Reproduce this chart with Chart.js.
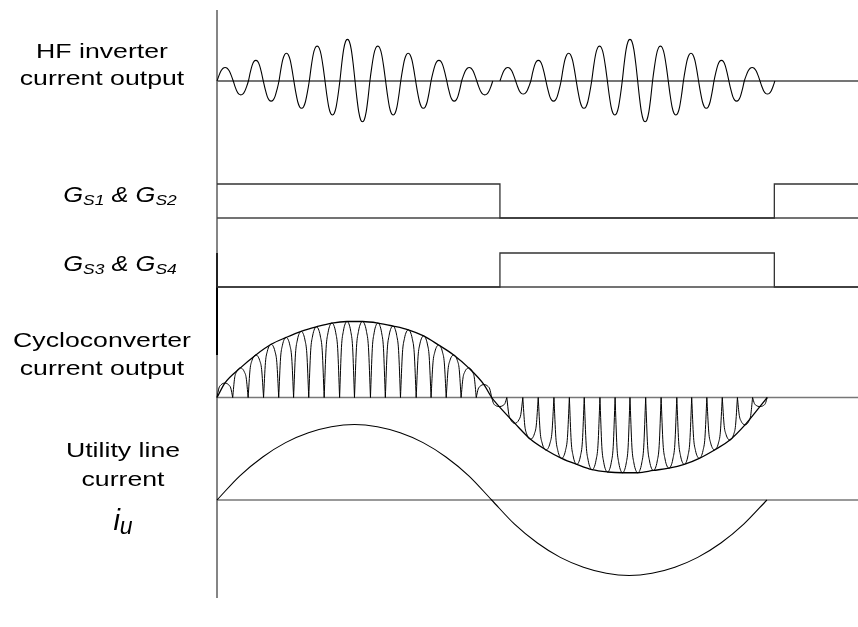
<!DOCTYPE html>
<html>
<head>
<meta charset="utf-8">
<script src="https://cdn.jsdelivr.net/npm/chart.js@4.4.1/dist/chart.umd.min.js"></script>
<style>
  html, body { margin:0; padding:0; background:#fff; }
  #wrap { position:relative; width:858px; height:627px; overflow:hidden; }
  #chart { position:absolute; left:0; top:0; display:block; }
  .lbl { position:absolute; width:240px; text-align:center; white-space:nowrap;
         font-family:"Liberation Sans", Arial, sans-serif; font-size:21px; color:#000;
         transform:scaleX(1.27); transform-origin:50% 0; }
  .gate { font-style:italic; font-size:22px; transform:scaleX(1.16); line-height:27px; }
  .gate sub { font-size:15px; vertical-align:-3px; }
  .iu { font-style:italic; font-size:29px; line-height:36px; transform:none; }
  .iu sub { font-size:23px; vertical-align:-4px; }
</style>
</head>
<body>
<div id="wrap">
  <canvas id="chart" width="858" height="627"></canvas>
  <div class="lbl" style="left:-18px; top:37px; line-height:27px;">HF inverter<br>current output</div>
  <div class="lbl gate" style="left:0px; top:181px;">G<sub>S1</sub> &amp; G<sub>S2</sub></div>
  <div class="lbl gate" style="left:0px; top:250px;">G<sub>S3</sub> &amp; G<sub>S4</sub></div>
  <div class="lbl" style="left:-18px; top:326px; line-height:28px;">Cycloconverter<br>current output</div>
  <div class="lbl" style="left:3px; top:435px; line-height:29px;">Utility line<br>current</div>
  <div class="lbl iu" style="left:3px; top:502px;">i<sub>u</sub></div>
</div>
<script>
// time in ms (one utility half cycle = 10 ms), amplitudes relative to channel peak

// HF inverter current: zero crossings and half-cycle peaks, two bursts
const hf1Zero = [0, 0.59, 1.14, 1.68, 2.25, 2.79, 3.35, 3.92, 4.46, 5.01, 5.55, 6.12, 6.67, 7.21, 7.77, 8.34, 8.88, 9.43, 10.01];
const hf1Peak = [0.32, -0.33, 0.49, -0.48, 0.66, -0.65, 0.83, -0.81, 0.99, -0.97, 0.83, -0.81, 0.66, -0.65, 0.49, -0.48, 0.32, -0.33];
const hf2Zero = [10.27, 10.84, 11.39, 11.94, 12.49, 13.04, 13.60, 14.17, 14.71, 15.27, 15.81, 16.38, 16.93, 17.48, 18.04, 18.58, 19.14, 19.71, 20.25];
const hf2Peak = [0.32, -0.31, 0.49, -0.48, 0.66, -0.65, 0.83, -0.81, 0.99, -0.97, 0.83, -0.81, 0.66, -0.65, 0.49, -0.48, 0.32, -0.31];

// gate signals (edge times and levels after each edge)
const gate12Times = [0, 10.27, 20.23, 23.3];
const gate12Level = [1, 0, 1, 1];
const gate34Times = [0, 0, 10.27, 20.23, 23.3];
const gate34Level = [1, 0, 1, 0, 0];

// cycloconverter output: pulse edges and pulse peaks
const cycloPosEdges = [0, 0.57, 1.13, 1.69, 2.24, 2.78, 3.33, 3.89, 4.45, 4.99, 5.57, 6.11, 6.66, 7.23, 7.77, 8.32, 8.86, 9.41, 9.97];
const cycloPosPeak = [0.19, 0.39, 0.56, 0.70, 0.79, 0.87, 0.93, 0.98, 1.0, 1.0, 0.98, 0.94, 0.89, 0.81, 0.69, 0.56, 0.39, 0.17];
const cycloNegEdges = [9.97, 10.52, 11.10, 11.66, 12.23, 12.79, 13.33, 13.90, 14.45, 14.99, 15.56, 16.12, 16.69, 17.23, 17.78, 18.34, 18.89, 19.44, 19.97];
const cycloNegPeak = [-0.12, -0.34, -0.55, -0.69, -0.80, -0.88, -0.95, -0.98, -0.99, -0.99, -0.96, -0.93, -0.88, -0.80, -0.69, -0.56, -0.36, -0.12];

// shape of one half cycle (fraction of its width -> fraction of its peak)
const humpFrac = [0, 0.125, 0.25, 0.375, 0.5, 0.625, 0.75, 0.875, 1];
const hfShape = [0, 0.42, 0.76, 0.95, 1, 0.95, 0.76, 0.42, 0];
const pulseShape = [0, 0.66, 0.87, 0.97, 1, 0.97, 0.87, 0.66, 0];

// utility line current
const utilTimes = [0, 0.83, 1.66, 2.49, 3.32, 4.15, 4.99, 5.82, 6.65, 7.48, 8.31, 9.14, 9.97,
                   10.80, 11.63, 12.46, 13.30, 14.13, 14.96, 15.79, 16.62, 17.45, 18.29, 19.12, 19.96];
const utilValues = [0, 0.32, 0.57, 0.76, 0.89, 0.97, 1.0, 0.97, 0.89, 0.76, 0.57, 0.32, 0,
                    -0.32, -0.57, -0.76, -0.89, -0.97, -1.0, -0.97, -0.89, -0.76, -0.57, -0.32, 0];

// layout
const W = 858, H = 627;
const PX_PER_MS = 27.55, ORIGIN_PX = 217;
const X_MIN = -ORIGIN_PX / PX_PER_MS, X_MAX = (W - ORIGIN_PX) / PX_PER_MS;
const AXIS_TOP = 10, AXIS_BOTTOM = 598, AXIS_DARK = [253, 355];
const CH = {
  hf:    { base: 81,    gain: 42 },
  g12:   { base: 218,   gain: 34 },
  g34:   { base: 287,   gain: 34 },
  cyclo: { base: 397.5, gain: 76 },
  util:  { base: 500,   gain: 75.5 }
};
const yOf = (c, v) => c.base - c.gain * v;

// build a train of half cycles; broken=true lifts the pen between them
function train(edges, peaks, shape, c, broken){
  const pts = [];
  peaks.forEach((p, i) => {
    const w = edges[i+1] - edges[i];
    humpFrac.forEach((f, k) => {
      if (!broken && k === humpFrac.length - 1 && i < peaks.length - 1) return;
      pts.push({x: edges[i] + f * w, y: yOf(c, p * shape[k])});
    });
    if (broken) pts.push({x: edges[i+1], y: null});
  });
  return pts;
}
function envelope(edges, peaks, c){
  const pts = [{x: edges[0], y: yOf(c, 0)}];
  peaks.forEach((p, i) => pts.push({x: (edges[i] + edges[i+1]) / 2, y: yOf(c, p)}));
  pts.push({x: edges[edges.length-1], y: yOf(c, 0)});
  return pts;
}
function steps(times, levels, c){
  return times.map((t, i) => ({x: t, y: yOf(c, levels[i])}));
}
function hline(c){
  return [{x: 0, y: c.base}, {x: X_MAX, y: c.base}];
}

const hfData = train(hf1Zero, hf1Peak, hfShape, CH.hf, false)
  .concat([{x: hf2Zero[0], y: null}], train(hf2Zero, hf2Peak, hfShape, CH.hf, false));
const envData = envelope(cycloPosEdges, cycloPosPeak, CH.cyclo)
  .concat(envelope(cycloNegEdges, cycloNegPeak, CH.cyclo).slice(1));
const pulseData = train(cycloPosEdges, cycloPosPeak, pulseShape, CH.cyclo, true)
  .concat(train(cycloNegEdges, cycloNegPeak, pulseShape, CH.cyclo, true));
const utilData = utilTimes.map((t, i) => ({x: t, y: yOf(CH.util, utilValues[i])}));

const curve = (data, width) => ({data, borderColor:'#000', borderWidth:width, cubicInterpolationMode:'monotone', order:0});
const flat = (data, color, width, order) => ({data, borderColor:color, borderWidth:width, order});

new Chart(document.getElementById('chart').getContext('2d'), {
  type: 'line',
  data: {
    datasets: [
      curve(hfData, 1.1),
      curve(pulseData, 1),
      curve(envData, 1.3),
      curve(utilData, 1.1),
      {data: steps(gate12Times, gate12Level, CH.g12), borderColor:'#333', borderWidth:1.3, stepped:true, order:1},
      {data: steps(gate34Times, gate34Level, CH.g34), borderColor:'#333', borderWidth:1.3, stepped:true, order:1},
      flat([{x:0, y:AXIS_DARK[0]}, {x:0, y:AXIS_DARK[1]}], '#000', 2, 2),
      flat(hline(CH.hf), '#757575', 2, 5),
      flat(hline(CH.g12), '#444', 1.3, 5),
      flat(hline(CH.g34), '#444', 1.3, 5),
      flat(hline(CH.cyclo), '#777', 1.6, 5),
      flat(hline(CH.util), '#777', 1.6, 5),
      flat([{x:0, y:AXIS_TOP}, {x:0, y:AXIS_BOTTOM}], '#858585', 2, 6)
    ]
  },
  options: {
    responsive: false,
    devicePixelRatio: 1,
    animation: false,
    events: [],
    layout: { padding: 0 },
    elements: { point: { radius: 0 }, line: { tension: 0, fill: false } },
    plugins: { legend: { display: false }, tooltip: { enabled: false } },
    scales: {
      x: { type: 'linear', min: X_MIN, max: X_MAX, display: false },
      y: { type: 'linear', min: 0, max: H, reverse: true, display: false }
    }
  }
});
</script>
</body>
</html>
